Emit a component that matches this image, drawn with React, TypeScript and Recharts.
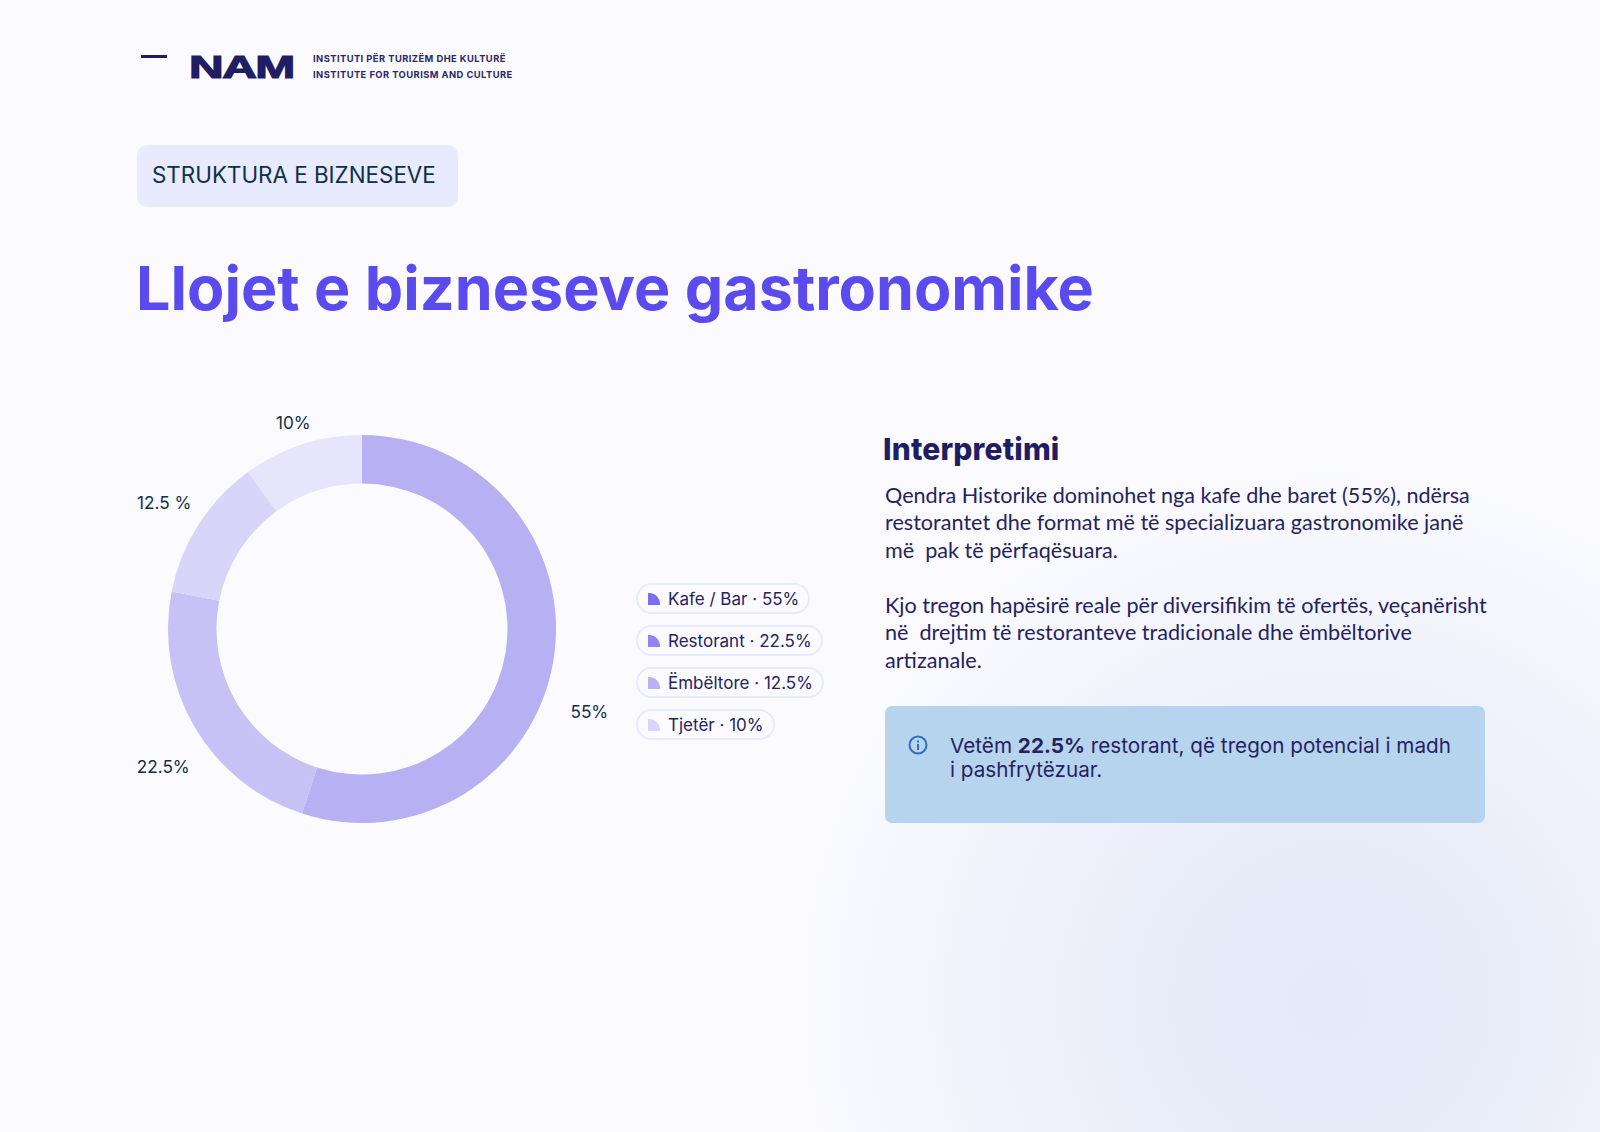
import React from 'react';
import { PieChart, Pie, Cell, Legend } from 'recharts';

const categories = ['Kafe / Bar', 'Restorant', 'Ëmbëltore', 'Tjetër'];
// slice shares as drawn in the picture (the printed labels are rounded differently)
const values = [55, 23.1, 11.9, 10];
const sliceLabels = ['55%', '22.5%', '12.5 %', '10%'];
const sliceColors = ['#B7B0F3', '#C7C1F6', '#D9D5F9', '#E7E5FC'];
const legendColors = ['#7B6CF0', '#9184EE', '#B7B0F3', '#D9D5F9'];
const legendTexts = ['55%', '22.5%', '12.5%', '10%'];
// label nudges off the natural radial position
const labelShift = [[14, 49], [3, 19], [1, 1], [0, 5]];
const labelRadius = [22, 40, 42, 28];

const bodyLines = [
    'Qendra Historike dominohet nga kafe dhe baret (55%), ndërsa',
    'restorantet dhe format më të specializuara gastronomike janë',
    'më  pak të përfaqësuara.',
    '',
    'Kjo tregon hapësirë reale për diversifikim të ofertës, veçanërisht',
    'në  drejtim të restoranteve tradicionale dhe ëmbëltorive',
    'artizanale.',
];

const data = categories.map((name, i) => ({ name, value: values[i] }));
const RAD = Math.PI / 180;

const renderLabel = (p: any) => {
    const i = p.index;
    const r = p.outerRadius + labelRadius[i];
    const x = p.cx + r * Math.cos(-p.midAngle * RAD) + labelShift[i][0];
    const y = p.cy + r * Math.sin(-p.midAngle * RAD) + labelShift[i][1];
    return (
        <text x={x} y={y} textAnchor="middle" dominantBaseline="central" fill="#0F3047"
            style={{ fontFamily: 'Inter', fontSize: 17.2 }}>
            {sliceLabels[i]}
        </text>
    );
};

const PillLegend = () => (
    <div style={{ display: 'flex', flexDirection: 'column', alignItems: 'flex-start', gap: 11 }}>
        {categories.map((c, i) => (
            <div key={c} style={{
                display: 'flex', alignItems: 'center', height: 31, boxSizing: 'border-box', padding: '0 9px 0 10px',
                border: '2px solid #E8EAFD', borderRadius: 16, whiteSpace: 'nowrap',
                fontFamily: 'Inter', fontSize: 17, color: '#25235F',
            }}>
                <span style={{ width: 12, height: 12, marginRight: 8, background: legendColors[i], borderTopRightRadius: 11 }} />
                {c} · {legendTexts[i]}
            </div>
        ))}
    </div>
);

const abs = (left: number, top: number): React.CSSProperties => ({ position: 'absolute', left, top, whiteSpace: 'pre' });

export default function App() {
    return (
        <div style={{
            position: 'absolute', left: 0, top: 0, width: 1600, height: 1132, overflow: 'hidden',
            background: 'radial-gradient(circle 550px at 1330px 1000px, #E4E9F8 0%, #E9EDF9 35%, #F2F4FC 68%, #FBFBFF 100%)',
        }}>
            {/* header */}
            <div style={{ position: 'absolute', left: 141, top: 55, width: 26, height: 3, background: '#1F1D63' }} />
            <div style={{
                ...abs(189, 45), fontFamily: 'Liberation Sans', fontWeight: 700, fontSize: 32, lineHeight: '44px', color: '#1F1D63',
                letterSpacing: -1, transform: 'scale(1.5, 1)', transformOrigin: 'left center', WebkitTextStroke: '1.2px #1F1D63',
            }}>NAM</div>
            <div style={{ ...abs(313, 51), fontFamily: 'Inter', fontWeight: 700, fontSize: 9.4, lineHeight: '16px', color: '#2B2966', letterSpacing: 0.43 }}>
                INSTITUTI PËR TURIZËM DHE KULTURË
            </div>
            <div style={{ ...abs(313, 67), fontFamily: 'Inter', fontWeight: 700, fontSize: 9.4, lineHeight: '16px', color: '#2B2966', letterSpacing: 0.43 }}>
                INSTITUTE FOR TOURISM AND CULTURE
            </div>

            <div style={{ position: 'absolute', left: 137, top: 145, width: 321, height: 62, borderRadius: 10, background: '#E7EBFD' }} />
            <div style={{ ...abs(152, 159), fontFamily: 'Inter', fontSize: 22.4, lineHeight: '32px', color: '#0F3047' }}>STRUKTURA E BIZNESEVE</div>

            <div style={{ ...abs(136, 248), fontFamily: 'Inter', fontWeight: 700, fontSize: 61, lineHeight: '80px', color: '#5B4BEF' }}>
                Llojet e bizneseve gastronomike
            </div>

            {/* chart */}
            <div style={{ position: 'absolute', left: 120, top: 400 }}>
                <PieChart width={720} height={460} margin={{ top: 0, right: 0, bottom: 0, left: 0 }}>
                    <Pie
                        data={data}
                        dataKey="value"
                        nameKey="name"
                        cx={242}
                        cy={229}
                        outerRadius={194}
                        innerRadius={145.5}
                        startAngle={90}
                        endAngle={-270}
                        stroke="none"
                        label={renderLabel}
                        labelLine={false}
                        isAnimationActive={false}
                    >
                        {data.map((d, i) => <Cell key={d.name} fill={sliceColors[i]} />)}
                    </Pie>
                    <Legend
                        content={<PillLegend />}
                        layout="vertical"
                        wrapperStyle={{ position: 'absolute', left: 516, top: 183, width: 'auto' }}
                    />
                </PieChart>
            </div>

            {/* interpretation */}
            <div style={{ ...abs(883, 430), fontFamily: 'Inter', fontWeight: 800, fontSize: 30, lineHeight: '38px', letterSpacing: 0.15, color: '#1F1D63' }}>Interpretimi</div>
            {bodyLines.map((line, i) => (
                <div key={i} style={{ ...abs(885, 481.5 + i * 27.5), fontFamily: 'Lato', fontSize: 21.6, lineHeight: '27.5px', color: '#25235F' }}>{line}</div>
            ))}

            <div style={{ position: 'absolute', left: 885, top: 706, width: 600, height: 117, borderRadius: 7, background: '#B7D4EF' }} />
            <svg style={{ position: 'absolute', left: 907, top: 734 }} width={22} height={22}>
                <circle cx={11} cy={11} r={8.5} fill="none" stroke="#2F6FBE" strokeWidth={2} />
                <rect x={10} y={10} width={2} height={6} fill="#2F6FBE" />
                <rect x={10} y={6.5} width={2} height={2} fill="#2F6FBE" />
            </svg>
            <div style={{ ...abs(950, 734), fontFamily: 'Inter', fontSize: 20.7, lineHeight: '24px', color: '#25235F' }}>
                {'Vetëm '}<b>22.5%</b>{' restorant, që tregon potencial i madh'}
            </div>
            <div style={{ ...abs(950, 758), fontFamily: 'Inter', fontSize: 20.7, lineHeight: '24px', color: '#25235F' }}>i pashfrytëzuar.</div>
        </div>
    );
}
